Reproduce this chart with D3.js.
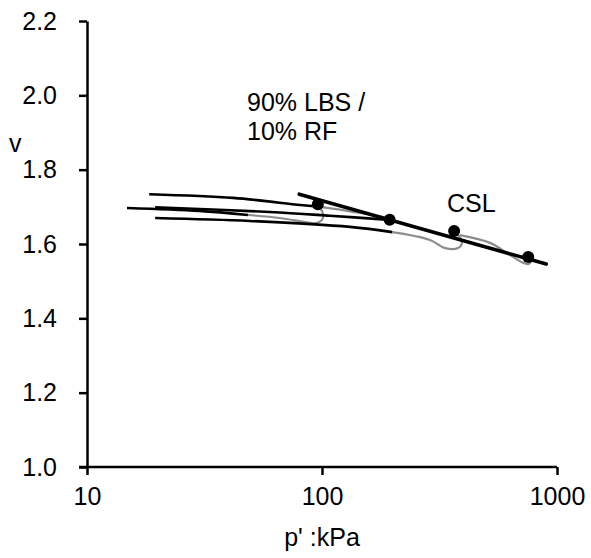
<!DOCTYPE html>
<html>
<head>
<meta charset="utf-8">
<script src="https://cdn.jsdelivr.net/npm/d3@7"></script>
<style>
  body { margin: 0; background: #fff; }
  text { font-family: "Liberation Sans", Arial, sans-serif; }
</style>
</head>
<body>
<svg id="chart"></svg>
<script>
// tick labels
var xTicks = [10, 100, 1000]
var yTicks = [1.0, 1.2, 1.4, 1.6, 1.8, 2.0, 2.2]

// critical state line end points [p', v]
var cslLine = [[80, 1.734], [900, 1.546]]

// critical state points
var cslPoints = [[96, 1.707], [194, 1.665], [365, 1.635], [754, 1.565]]

// black compression / swelling lines
var blackLines = [
    [[18.4, 1.734], [41.9, 1.724], [80.9, 1.705], [96, 1.701]],
    [[14.8, 1.697], [30, 1.689], [48.4, 1.678]],
    [[19.5, 1.699], [60.1, 1.686], [108, 1.676], [194, 1.665]],
    [[19.5, 1.670], [49.4, 1.662], [131.5, 1.646], [199, 1.632]]
]

// grey shearing paths
var greyLines = [
    [[48.4, 1.678], [66.2, 1.670], [84.7, 1.659], [93.3, 1.656], [100, 1.665], [101, 1.681], [98, 1.698]],
    [[100, 1.699], [131.5, 1.688], [182, 1.672], [194, 1.665]],
    [[199, 1.632], [288, 1.611], [334, 1.589], [379, 1.589], [394, 1.605], [372, 1.630]],
    [[386, 1.624], [519, 1.603], [631, 1.570], [709, 1.551], [753, 1.546], [783, 1.557], [760, 1.566]]
]

var dimensions = {
    width: 591,
    height: 558,
    margin: { top: 21, bottom: 91, right: 34, left: 87 }
}
var fontSize = "25px"

var svg = d3.select("#chart")
    .attr("width", dimensions.width)
    .attr("height", dimensions.height)

var xScale = d3.scaleLog()
    .domain([10, 1000])
    .range([dimensions.margin.left, dimensions.width - dimensions.margin.right])

var yScale = d3.scaleLinear()
    .domain([1.0, 2.2])
    .range([dimensions.height - dimensions.margin.bottom, dimensions.margin.top])

var xAxisGen = d3.axisBottom(xScale)
    .tickValues(xTicks)
    .tickSize(8)
    .tickSizeOuter(0)
    .tickPadding(12)
    .tickFormat(d3.format("d"))

var yAxisGen = d3.axisLeft(yScale)
    .tickValues(yTicks)
    .tickSize(8)
    .tickSizeOuter(0)
    .tickPadding(22)
    .tickFormat(d3.format(".1f"))

var line = d3.line()
    .x(d => xScale(d[0]))
    .y(d => yScale(d[1]))
    .curve(d3.curveCatmullRom)

svg.selectAll(".grey")
    .data(greyLines)
    .enter().append("path")
    .attr("class", "grey")
    .attr("d", line)
    .attr("fill", "none")
    .attr("stroke", "#8c8c8c")
    .attr("stroke-width", 2.2)

svg.selectAll(".black")
    .data(blackLines)
    .enter().append("path")
    .attr("class", "black")
    .attr("d", line)
    .attr("fill", "none")
    .attr("stroke", "#000")
    .attr("stroke-width", 2.6)

svg.append("path")
    .attr("d", d3.line().x(d => xScale(d[0])).y(d => yScale(d[1]))(cslLine))
    .attr("fill", "none")
    .attr("stroke", "#000")
    .attr("stroke-width", 3.6)
    .attr("stroke-linecap", "round")

svg.selectAll(".dot")
    .data(cslPoints)
    .enter().append("circle")
    .attr("class", "dot")
    .attr("cx", d => xScale(d[0]))
    .attr("cy", d => yScale(d[1]))
    .attr("r", 6)
    .attr("fill", "#000")

var xg = svg.append("g")
    .attr("transform", "translate(0," + (dimensions.height - dimensions.margin.bottom) + ")")
    .call(xAxisGen)
var yg = svg.append("g")
    .attr("transform", "translate(" + dimensions.margin.left + ",0)")
    .call(yAxisGen)

// x axis line also reaches left past the y axis like the original
xg.select(".domain").attr("d", "M" + (dimensions.margin.left - 8) + ",0H" + (dimensions.width - dimensions.margin.right))

svg.selectAll(".domain, .tick line")
    .attr("stroke", "#000")
    .attr("stroke-width", 2.5)
svg.selectAll(".tick text")
    .attr("fill", "#000")
    .style("font-size", fontSize)
    .style("font-family", "Liberation Sans, Arial, sans-serif")

svg.append("text")
    .attr("x", xScale(100))
    .attr("y", 546)
    .attr("text-anchor", "middle")
    .style("font-size", fontSize)
    .text("p' :kPa")

svg.append("text")
    .attr("x", 9)
    .attr("y", 152)
    .style("font-size", fontSize)
    .text("v")

svg.append("text")
    .attr("x", 247)
    .attr("y", 111)
    .style("font-size", fontSize)
    .text("90% LBS /")
svg.append("text")
    .attr("x", 247)
    .attr("y", 140)
    .style("font-size", fontSize)
    .text("10% RF")

svg.append("text")
    .attr("x", 447)
    .attr("y", 212)
    .style("font-size", fontSize)
    .text("CSL")
</script>
</body>
</html>
